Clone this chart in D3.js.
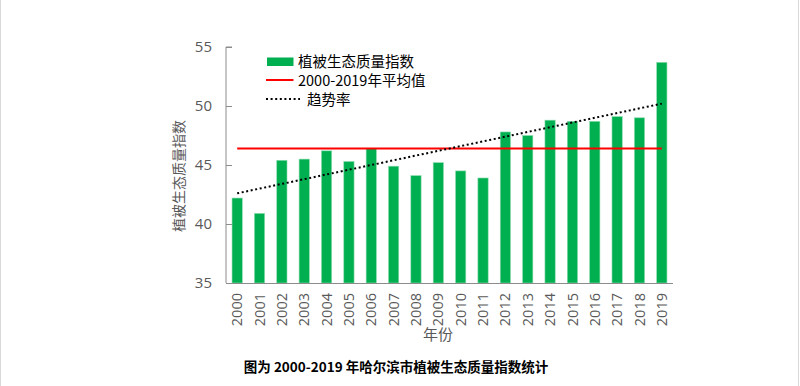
<!DOCTYPE html>
<html>
<head>
<meta charset="utf-8">
<script src="https://cdn.jsdelivr.net/npm/d3@7"></script>
<style>
html,body{margin:0;padding:0;background:#fff;}
svg{display:block;font-family:"Noto Sans CJK SC","Noto Sans",sans-serif;}
</style>
</head>
<body>
<svg id="chart" width="800" height="386"></svg>
<script>
const years = ["2000","2001","2002","2003","2004","2005","2006","2007","2008","2009","2010","2011","2012","2013","2014","2015","2016","2017","2018","2019"];
const indexValues = [42.2,40.9,45.4,45.5,46.2,45.3,46.4,44.9,44.1,45.2,44.5,43.9,47.8,47.5,48.8,48.7,48.7,49.1,49.0,53.7];
const meanValue = [46.4];
const trendEnds = [42.6, 50.2];
const yTicks = [35,40,45,50,55];
const legendLabels = ["植被生态质量指数","2000-2019年平均值"," 趋势率"];
const yTitle = "植被生态质量指数";
const xTitle = "年份";
const caption = "图为 2000-2019 年哈尔滨市植被生态质量指数统计";

const svg = d3.select("#chart");
const pL = 226, pR = 673, pT = 47, pB = 283;

// frame edges
svg.append("line").attr("x1",0.5).attr("x2",0.5).attr("y1",0).attr("y2",386).attr("stroke","#d9d9d9");
svg.append("line").attr("x1",798.5).attr("x2",798.5).attr("y1",0).attr("y2",386).attr("stroke","#d9d9d9");

const x = d3.scaleBand().domain(years).range([pL,pR]).paddingInner(0.54).paddingOuter(0.27);
const y = d3.scaleLinear().domain([35,55]).range([pB,pT]);

// bars
svg.append("g").selectAll("rect").data(indexValues).join("rect")
  .attr("x",(d,i)=>x(years[i]))
  .attr("width",x.bandwidth())
  .attr("y",d=>y(d))
  .attr("height",d=>y(35)-y(d))
  .attr("fill","#00b050")
  .attr("stroke","#8fdcb0").attr("stroke-width",0.6);

// y axis
const yAxis = d3.axisLeft(y).tickValues(yTicks).tickSize(-6).tickPadding(14).tickFormat(d3.format("d"));
const gy = svg.append("g").attr("transform",`translate(${pL},0)`).call(yAxis);
gy.select(".domain").attr("stroke","#8c8c8c").attr("d",`M6,${pT}H0V${pB}`);
gy.selectAll(".tick line").attr("stroke","#8c8c8c");
gy.selectAll(".tick text").attr("fill","#595959").attr("font-size",15).attr("font-family","'Open Sans','Noto Sans',sans-serif");

// x axis
const xAxis = d3.axisBottom(x).tickSize(0).tickPadding(0);
const gx = svg.append("g").attr("transform",`translate(0,${pB})`).call(xAxis);
gx.select(".domain").attr("stroke","#8c8c8c").attr("d",`M${pL},0.5H${pR}`);
gx.selectAll(".tick text")
  .attr("fill","#595959").attr("font-size",14.5)
  .attr("font-family","'Open Sans','Noto Sans',sans-serif")
  .attr("transform","rotate(-90)")
  .attr("text-anchor","end")
  .attr("x",-10).attr("y",0).attr("dy","0.35em");

// mean line
const cx0 = x(years[0]) + x.bandwidth()/2;
const cx1 = x(years[years.length-1]) + x.bandwidth()/2;
svg.append("line").attr("x1",cx0).attr("x2",cx1)
  .attr("y1",y(meanValue[0])).attr("y2",y(meanValue[0]))
  .attr("stroke","#ff0000").attr("stroke-width",2);

// trend line
svg.append("line").attr("x1",cx0).attr("x2",cx1)
  .attr("y1",y(trendEnds[0])).attr("y2",y(trendEnds[1]))
  .attr("stroke","#000").attr("stroke-width",2).attr("stroke-dasharray","2,2.6");

// legend
const lg = svg.append("g");
lg.append("rect").attr("x",267).attr("y",57.5).attr("width",26.5).attr("height",8.5).attr("fill","#00b050");
lg.append("line").attr("x1",266).attr("x2",293.5).attr("y1",80).attr("y2",80).attr("stroke","#ff0000").attr("stroke-width",2);
lg.append("line").attr("x1",266).attr("x2",300).attr("y1",99).attr("y2",99).attr("stroke","#000").attr("stroke-width",2).attr("stroke-dasharray","2,2.6");
const ly = [62,81,100];
lg.selectAll("text").data(legendLabels).join("text")
  .attr("x",(d,i)=> i===2 ? 307 : 298)
  .attr("y",(d,i)=>ly[i]).attr("dy","0.36em")
  .attr("font-size",14.5).attr("fill","#000")
  .text(d=>d.trim());

// y title
svg.append("text").attr("transform","translate(179,176) rotate(-90)")
  .attr("text-anchor","middle").attr("dy","0.35em")
  .attr("font-size",14).attr("fill","#595959").text(yTitle);

// x title
svg.append("text").attr("x",438).attr("y",335).attr("text-anchor","middle").attr("dy","0.35em")
  .attr("font-size",15).attr("fill","#595959").text(xTitle);

// caption
svg.append("text").attr("x",396).attr("y",367).attr("text-anchor","middle").attr("dy","0.35em")
  .attr("font-size",13.5).attr("font-weight","bold").attr("fill","#000").text(caption);
</script>
</body>
</html>
